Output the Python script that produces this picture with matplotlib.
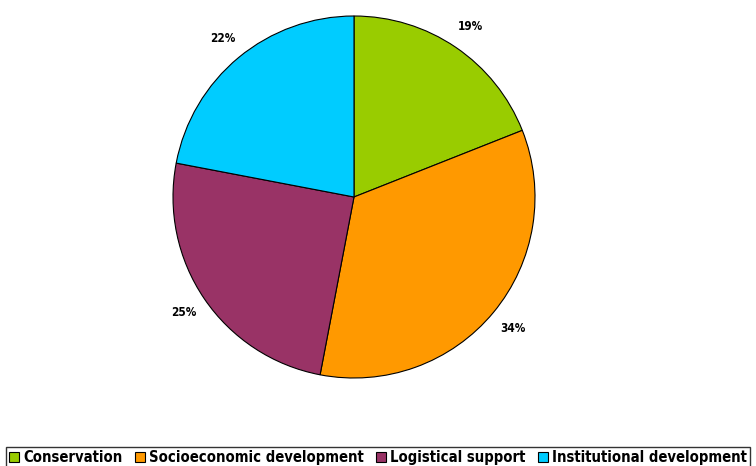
import matplotlib
matplotlib.use("Agg")
import matplotlib.pyplot as plt

categories = ["Conservation", "Socioeconomic development", "Logistical support", "Institutional development"]
shares = [19, 34, 25, 22]
pct_labels = ["19%", "34%", "25%", "22%"]
colors = ["#99CC00", "#FF9900", "#993366", "#00CCFF"]

plt.rcParams['font.family'] = ['DejaVu Sans']

fig = plt.figure(figsize=(7.56, 4.66), dpi=100)
ax = fig.add_axes([173 / 756, 88 / 466, 362 / 756, 362 / 466])

wedges, texts = ax.pie(shares, labels=pct_labels, colors=colors, startangle=90,
                       counterclock=False, labeldistance=1.14,
                       wedgeprops=dict(edgecolor="black", linewidth=0.8),
                       textprops=dict(fontsize=8.5, fontweight="bold", fontstretch="condensed"))
for t in texts:
    t.set_horizontalalignment("center")
ax.set_xlim(-1, 1)
ax.set_ylim(-1, 1)
ax.set_aspect("equal")

leg = fig.legend(wedges, categories, loc="lower center", bbox_to_anchor=(0.5, -0.004),
                 ncol=4, frameon=True, fancybox=False, edgecolor="black",
                 prop=dict(family="DejaVu Sans", size=10.6, weight="bold", stretch="condensed"),
                 handlelength=0.7, handleheight=0.7,
                 handletextpad=0.25, columnspacing=0.85, borderpad=0.2, borderaxespad=0)
leg.get_frame().set_linewidth(1.0)

fig.savefig("out.png", dpi=100)
